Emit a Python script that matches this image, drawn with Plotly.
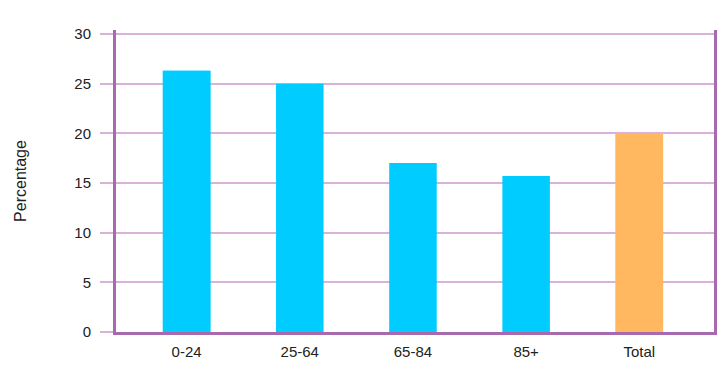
import plotly.graph_objects as go

# Share of population by age group
categories = ["0-24", "25-64", "65-84", "85+", "Total"]
percentages = [26.3, 25.0, 17.0, 15.7, 20.0]
bar_colors = ["#00CCFF", "#00CCFF", "#00CCFF", "#00CCFF", "#FFB860"]
stripe_colors = ["#00CCFF", "#3CDBFF", "#3CDBFF", "#3CDBFF", "#FFB860"]
bar_stripes = ["", "|", "|", "|", ""]
y_ticks = [0, 5, 10, 15, 20, 25, 30]

grid_col = "#D8B2D8"
axis_col = "#A86AAE"

x_pos = list(range(len(categories)))

fig = go.Figure()
# solid bars
fig.add_trace(
    go.Bar(
        x=x_pos,
        y=percentages,
        marker=dict(color=bar_colors, line=dict(width=0)),
        width=0.42,
        hoverinfo="skip",
    )
)
# faint vertical stripes laid over the same bars
fig.add_trace(
    go.Bar(
        x=x_pos,
        y=percentages,
        marker=dict(
            color=bar_colors,
            line=dict(width=0),
            pattern=dict(
                shape=bar_stripes,
                fillmode="replace",
                fgcolor=stripe_colors,
                fgopacity=1,
                size=15,
                solidity=0.15,
            ),
        ),
        width=0.42,
    )
)

fig.update_layout(
    width=722,
    height=365,
    margin=dict(l=116, r=5, t=30, b=31),
    paper_bgcolor="white",
    plot_bgcolor="white",
    showlegend=False,
    barmode="overlay",
    font=dict(family="Liberation Sans, Arial, sans-serif", size=15, color="#222222"),
)

fig.update_xaxes(
    range=[-0.624, 4.66],
    tickmode="array",
    tickvals=x_pos,
    ticktext=categories,
    showgrid=False,
    zeroline=False,
    showline=True,
    linecolor=axis_col,
    linewidth=3,
    ticks="",
    ticklabelstandoff=4,
    tickfont=dict(size=15),
)

fig.update_yaxes(
    range=[0, 30.4],
    tickvals=y_ticks,
    showgrid=True,
    gridcolor=grid_col,
    gridwidth=2,
    zeroline=False,
    showline=True,
    mirror=True,
    linecolor=axis_col,
    linewidth=3,
    ticks="outside",
    ticklen=13,
    tickwidth=2,
    tickcolor=grid_col,
    ticklabelstandoff=6,
    tickfont=dict(size=15),
    title=dict(text="Percentage", font=dict(size=16), standoff=44),
)

fig.write_html("out.html")
